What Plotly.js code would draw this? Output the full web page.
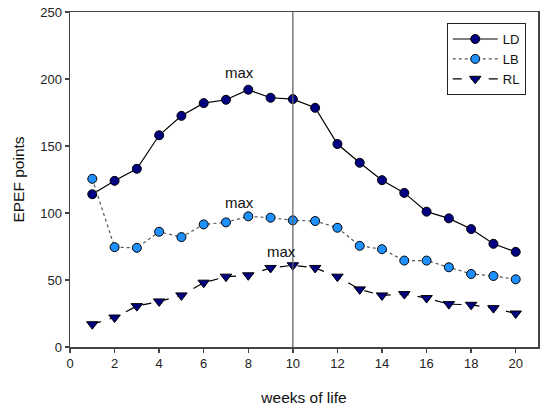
<!DOCTYPE html>
<html>
<head>
<meta charset="utf-8">
<script src="https://cdn.plot.ly/plotly-3.0.1.min.js"></script>
<style>
  html, body { margin: 0; padding: 0; background: #fff; }
  #chart { width: 550px; height: 408px; }
</style>
</head>
<body>
<div id="chart"></div>
<script>
// weeks 1..20
const weeks = [1, 2, 3, 4, 5, 6, 7, 8, 9, 10, 11, 12, 13, 14, 15, 16, 17, 18, 19, 20];
const ld = [114, 124, 133, 158, 172.5, 182, 184.5, 192, 186, 185, 178.5, 151.5, 137.5, 124.5, 115, 101, 96, 88, 77, 71];
const lb = [125.5, 74.5, 74, 86, 82, 91.5, 93, 97.5, 96.5, 94.5, 94, 89, 75.5, 73, 64.5, 64.5, 59.5, 54.5, 53, 50.5];
const rl = [17, 22, 30.5, 34, 38.5, 48, 52.5, 53.5, 59, 61, 59, 52.5, 43, 38.5, 39.5, 36.5, 32, 31.5, 29, 25];

// "max" labels: [x, y]
const maxLabels = [[7.6, 205], [7.6, 108], [9.5, 71]];
const peakWeek = 10;

const FONT = "Liberation Sans, Arial, sans-serif";

const traces = [
  {
    x: weeks, y: ld, name: "LD", type: "scatter", mode: "lines+markers",
    line: { color: "#000", width: 1.2 },
    marker: { symbol: "circle", size: 9, color: "#000080", line: { color: "#000", width: 1 } }
  },
  {
    x: weeks, y: lb, name: "LB", type: "scatter", mode: "lines+markers",
    line: { color: "#555", width: 1.2, dash: "dot" },
    marker: { symbol: "circle", size: 9, color: "#1e90ff", line: { color: "#000", width: 1 } }
  },
  {
    x: weeks, y: rl, name: "RL", type: "scatter", mode: "lines+markers",
    line: { color: "#000", width: 1.2, dash: "dash" },
    marker: { symbol: "triangle-down", size: 10, color: "#000080", line: { color: "#000", width: 1 } }
  }
];

const axisCommon = {
  showgrid: false, zeroline: false,
  showline: true, linecolor: "#444", linewidth: 1.5, mirror: true,
  ticks: "outside", ticklen: 4, tickcolor: "#444", tickwidth: 1.5,
  tickfont: { family: FONT, size: 13, color: "#222" }
};

const layout = {
  width: 550, height: 408,
  margin: { l: 70, r: 12, t: 12, b: 61 },
  paper_bgcolor: "#fff", plot_bgcolor: "#fff",
  font: { family: FONT, color: "#111" },
  showlegend: true,
  legend: {
    x: 0.805, y: 0.967, xanchor: "left", yanchor: "top",
    bgcolor: "#fff", bordercolor: "#222", borderwidth: 1,
    font: { family: FONT, size: 13, color: "#111" },
    tracegroupgap: 0, itemwidth: 45
  },
  xaxis: Object.assign({}, axisCommon, {
    range: [0, 21], tickvals: [0, 2, 4, 6, 8, 10, 12, 14, 16, 18, 20],
    title: { text: "weeks of life", font: { family: FONT, size: 15.5, color: "#111" }, standoff: 22 }
  }),
  yaxis: Object.assign({}, axisCommon, {
    range: [0, 250], tickvals: [0, 50, 100, 150, 200, 250],
    title: { text: "EPEF points", font: { family: FONT, size: 15.5, color: "#111" }, standoff: 12 }
  }),
  shapes: [{
    type: "line", xref: "x", yref: "paper", x0: peakWeek, x1: peakWeek, y0: 0, y1: 1,
    line: { color: "#666", width: 1.3 }
  }],
  annotations: maxLabels.map(p => ({
    x: p[0], y: p[1], xref: "x", yref: "y", text: "max", showarrow: false,
    font: { family: FONT, size: 15, color: "#111" }
  }))
};

Plotly.newPlot("chart", traces, layout, { displayModeBar: false, staticPlot: true });
</script>
</body>
</html>
